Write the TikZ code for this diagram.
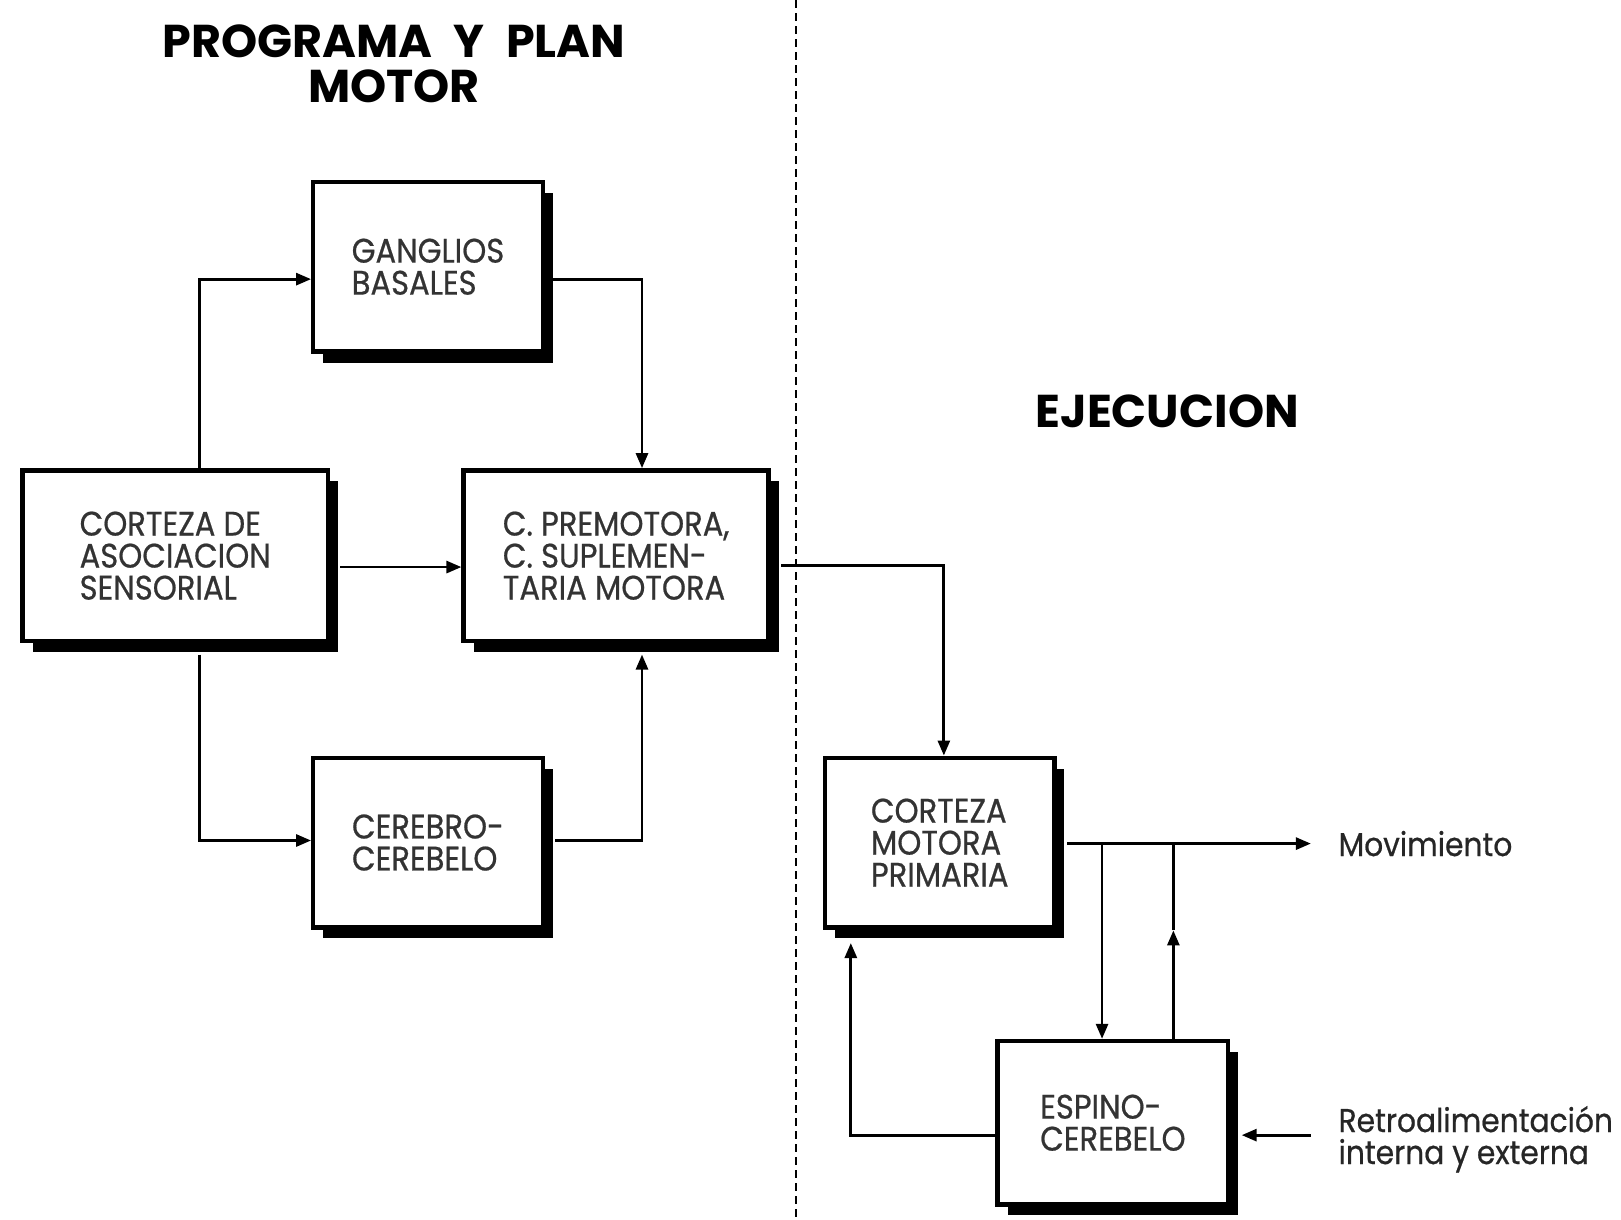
\documentclass[tikz,border=0pt]{standalone}
\usepackage{fontspec}
\setmainfont{Poppins}
\newfontfamily\boxfont[FakeStretch=0.9, FakeBold=0.6]{Poppins}
\newfontfamily\titfont[WordSpace=2.2]{Poppins}
\usetikzlibrary{arrows.meta,calc,shadows}
\begin{document}
\begin{tikzpicture}[x=0.5168pt,y=-0.5168pt,
  blk/.style={draw, line width=2.2pt, fill=white, align=left, inner sep=2pt,
    font=\boxfont\fontsize{17}{16}\selectfont, text=black!80,
    drop shadow={shadow xshift=5pt, shadow yshift=-5.5pt, fill=black, opacity=1}},
  smallbox/.style={blk, minimum width=114.7pt, minimum height=84.8pt},
  widebox/.style={blk, minimum width=152.5pt, minimum height=85.3pt},
  conn/.style={line width=1.4pt},
  arr/.style={conn, -{Triangle[length=7.5pt,width=6pt]}},
  titl/.style={align=center, font=\titfont\bfseries\fontsize{23}{22.5}\selectfont},
  lbl/.style={anchor=west, align=left, text=black!85, font=\boxfont\fontsize{16.5}{16}\selectfont}
]
\path[use as bounding box] (0,0) rectangle (1568,1180);

% divider
\draw[line width=0.8pt, dash pattern=on 4pt off 2.5pt] (770,0) -- (770,1180);

% titles
\node[titl] (t1) at (381,62) {PROGRAMA Y PLAN\\MOTOR};
\node[titl] (t2) at (1129,398) {EJECUCION};

% boxes
\node[smallbox] (G) at (414,258) {GANGLIOS\\BASALES};
\node[widebox] (A) at (169.5,537.5) {CORTEZA DE\\ASOCIACION\\SENSORIAL};
\node[widebox] (P) at (596,537.5) {C. PREMOTORA,\\C. SUPLEMEN-\\TARIA MOTORA};
\node[smallbox] (C) at (414,815) {CEREBRO-\\CEREBELO};
\node[smallbox] (M) at (909,815) {CORTEZA\\MOTORA\\PRIMARIA};
\node[blk, minimum width=115.2pt, minimum height=81.7pt] (E) at (1076.5,1086) {ESPINO-\\CEREBELO};

% labels
\node[lbl] (mov) at (1288,816) {Movimiento};
\node[lbl] (ret) at (1288,1102) {Retroalimentación\\interna y externa};

% helper coordinates
\coordinate (k1) at (193,270);
\coordinate (k2) at (621,270);
\coordinate (k4) at (193,813);
\coordinate (k5) at (621,813);
\coordinate (k6) at (913,547);
\coordinate (j1) at (1066,816);
\coordinate (j2) at (1135,816);
\coordinate (j2m) at (1135,900);
\coordinate (mvend) at (1268,816);
\coordinate (k10) at (823,1098);
\coordinate (rs) at (1268,1098);

% connectors
\draw[arr] (A.north -| k1) -- (k1) -- (k1 -| G.west);
\draw[arr] (k2 -| G.east) -- (k2) -- (k2 |- P.north);
\draw[arr] ($(A.east)+(10,11)$) -- ($(P.west)+(0,11)$);
\draw[arr] ($(A.south -| k4)+(0,11)$) -- (k4) -- (k4 -| C.west);
\draw[arr] ($(k5 -| C.east)+(10,0)$) -- (k5) -- ($(k5 |- P.south)+(0,11)$);
\draw[arr] ($(k6 -| P.east)+(10,0)$) -- (k6) -- (k6 |- M.north);
\draw[arr] ($(M.east)+(10,1)$) -- (mvend);
\draw[arr] (j1) -- (j1 |- E.north);
\draw[arr] (j2 |- E.north) -- (j2m);
\draw[conn] (j2m) -- (j2);
\draw[arr] (k10 -| E.west) -- (k10) -- ($(k10 |- M.south)+(0,13)$);
\draw[arr] (rs) -- ($(rs -| E.east)+(11,0)$);
\end{tikzpicture}
\end{document}
